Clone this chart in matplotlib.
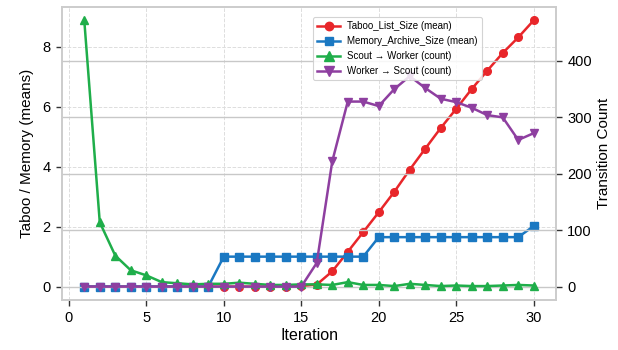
import matplotlib
matplotlib.use('Agg')
import matplotlib.pyplot as plt
import numpy as np

plt.rcParams['font.family'] = ['Liberation Sans', 'DejaVu Sans']
plt.rcParams['font.size'] = 10.5

# Data
iterations = np.arange(1, 31)
taboo_size = [0, 0, 0, 0, 0, 0, 0, 0, 0, 0, 0, 0, 0, 0, 0.02,
              0.07, 0.51, 1.16, 1.82, 2.48, 3.16, 3.9, 4.6, 5.29, 5.93,
              6.59, 7.2, 7.79, 8.31, 8.88]
memory_size = [0, 0, 0, 0, 0, 0, 0, 0, 0, 1.0, 1.0, 1.0, 1.0, 1.0, 1.0,
               1.0, 1.0, 1.0, 1.0, 1.65, 1.65, 1.65, 1.65, 1.65, 1.65,
               1.65, 1.65, 1.65, 1.65, 2.02]
scout_to_worker = [472, 114, 55, 29, 20, 8, 6, 4, 5, 5, 7, 5, 3, 3, 4,
                   4, 3, 8, 3, 3, 1, 5, 3, 1, 2, 1, 1, 2, 3, 2]
worker_to_scout = [0, 0, 0, 0, 0, 0, 0, 0, 0, 0, 0, 0, 0, 0, 0,
                   42, 222, 328, 328, 320, 350, 373, 352, 333, 327,
                   317, 304, 300, 260, 272]

red = '#e8262a'
blue = '#1a78c2'
green = '#1fae4a'
purple = '#8e3fa0'

fig = plt.figure(figsize=(6.18, 3.5), dpi=100)
ax1 = fig.add_axes([0.100, 0.143, 0.800, 0.837])

ax1.plot(iterations, taboo_size, 'o-', color=red, lw=1.8, ms=5.5,
         label='Taboo_List_Size (mean)')
ax1.plot(iterations, memory_size, 's-', color=blue, lw=1.8, ms=5.5,
         label='Memory_Archive_Size (mean)')
ax1.set_xlabel('Iteration', fontsize=11.5, labelpad=2)
ax1.set_ylabel('Taboo / Memory (means)', fontsize=11, labelpad=6)
ax1.set_xticks([0, 5, 10, 15, 20, 25, 30])
ax1.set_yticks([0, 2, 4, 6, 8])
ax1.grid(True, linestyle='--', color='#dddddd', linewidth=0.7)

ax2 = ax1.twinx()
ax2.plot(iterations, scout_to_worker, '^-', color=green, lw=1.8, ms=6,
         label='Scout \u2192 Worker (count)')
ax2.plot(iterations, worker_to_scout, 'v-', color=purple, lw=1.8, ms=6,
         label='Worker \u2192 Scout (count)')
ax2.set_ylabel('Transition Count', fontsize=11)
ax2.set_yticks([0, 100, 200, 300, 400])
ax2.grid(True, axis='y', linestyle='-', color='#c8c8c8', linewidth=1.0)

for ax in (ax1, ax2):
    for s in ax.spines.values():
        s.set_color('#cccccc')
        s.set_linewidth(1.2)
    ax.tick_params(direction='out', length=4, width=1, color='#333333',
                   labelsize=10.5, pad=4)

h1, l1 = ax1.get_legend_handles_labels()
h2, l2 = ax2.get_legend_handles_labels()
leg = ax2.legend(h1 + h2, l1 + l2, loc='upper left',
                 bbox_to_anchor=(0.508, 0.966), borderaxespad=0,
                 fontsize=7, framealpha=0.85, edgecolor='#cccccc',
                 handlelength=2.3, borderpad=0.45, labelspacing=0.5,
                 markerscale=1.1)
leg.get_frame().set_linewidth(0.8)

fig.savefig('out.png', dpi=100)
